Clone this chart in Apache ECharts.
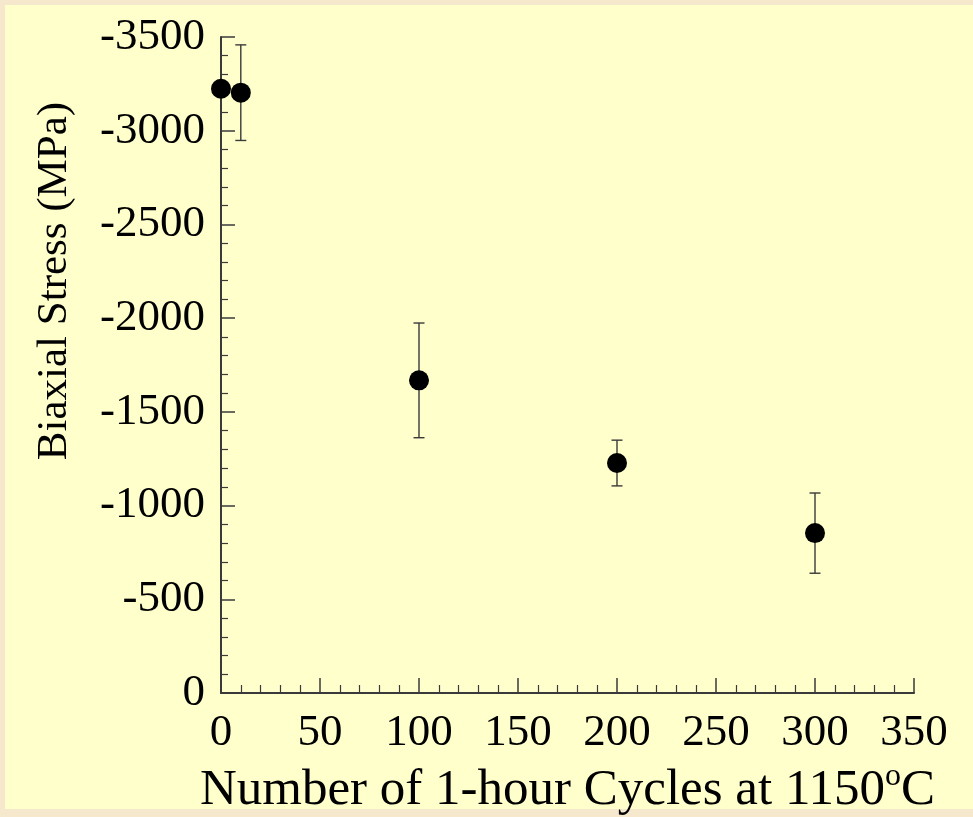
<!DOCTYPE html>
<html>
<head>
<meta charset="utf-8">
<script src="https://cdn.jsdelivr.net/npm/echarts@6/dist/echarts.min.js"></script>
<style>
  html, body { margin: 0; padding: 0; background: #F6E8CC; }
  #chart { width: 973px; height: 817px; }
</style>
</head>
<body>
<div id="chart"></div>
<script>
// Thermal cycling: residual biaxial stress vs. number of 1-hour cycles
const cycles = [0, 10, 100, 200, 300];
const stress = [-3224, -3203, -1668, -1227, -853];
const stressErr = [0, 255, 306, 122, 214];

const xTicks = [0, 50, 100, 150, 200, 250, 300, 350];
const yTicks = [-3500, -3000, -2500, -2000, -1500, -1000, -500, 0];

const serif = '"Liberation Serif", "DejaVu Serif", serif';
const axisColor = '#3a3a3a';

const points = cycles.map((c, i) => [c, stress[i]]);
const bars = cycles.map((c, i) => [c, stress[i] - stressErr[i], stress[i] + stressErr[i]]);

const chart = echarts.init(document.getElementById('chart'), null, { renderer: 'canvas' });

chart.setOption({
  backgroundColor: '#F6E8CC',
  animation: false,
  graphic: [{
    type: 'rect',
    z: -10,
    shape: { x: 5, y: 5, width: 968, height: 804 },
    style: { fill: '#FFFFCC' }
  }],
  grid: { left: 221, top: 37, right: 59, bottom: 124, containLabel: false, outerBoundsMode: 'none' },
  xAxis: {
    type: 'value',
    min: xTicks[0],
    max: xTicks[xTicks.length - 1],
    interval: 50,
    axisLine: { lineStyle: { color: axisColor, width: 2 } },
    axisTick: { inside: true, length: 15, lineStyle: { color: axisColor, width: 1.5 } },
    minorTick: { show: true, splitNumber: 5, length: 8, lineStyle: { color: axisColor, width: 1.2 } },
    splitLine: { show: false },
    axisLabel: { color: '#000', fontFamily: serif, fontSize: 45, margin: 18, formatter: v => String(v) },
    name: '{t|Number of 1-hour Cycles at 1150}{s|o}{t|C}',
    nameLocation: 'middle',
    nameGap: 67,
    nameTextStyle: {
      color: '#000',
      fontFamily: serif,
      rich: {
        t: { fontFamily: serif, fontSize: 51, color: '#000', lineHeight: 60 },
        s: { fontFamily: serif, fontSize: 32, color: '#000', verticalAlign: 'top', lineHeight: 60, padding: [0, 0, 22, 0] }
      }
    }
  },
  yAxis: {
    type: 'value',
    inverse: true,
    min: yTicks[0],
    max: yTicks[yTicks.length - 1],
    interval: 500,
    axisLine: { lineStyle: { color: axisColor, width: 2 } },
    axisTick: { inside: true, length: 14, lineStyle: { color: axisColor, width: 1.5 } },
    minorTick: { show: true, splitNumber: 5, length: 7, lineStyle: { color: axisColor, width: 1.2 } },
    splitLine: { show: false },
    axisLabel: { color: '#000', fontFamily: serif, fontSize: 45, margin: 16, formatter: v => String(v) },
    name: 'Biaxial Stress (MPa)',
    nameLocation: 'middle',
    nameGap: 145,
    nameRotate: 90,
    nameTextStyle: { color: '#000', fontFamily: serif, fontSize: 43, padding: [0, 0, 0, 168] }
  },
  series: [
    {
      type: 'custom',
      z: 3,
      data: bars,
      renderItem: function (params, api) {
        const x = api.value(0);
        const lo = api.coord([x, api.value(1)]);
        const hi = api.coord([x, api.value(2)]);
        if (Math.abs(hi[1] - lo[1]) < 1) return null;
        const half = 5.5;
        const style = { stroke: '#3a3a3a', lineWidth: 1.4 };
        return {
          type: 'group',
          children: [
            { type: 'line', shape: { x1: lo[0], y1: lo[1], x2: hi[0], y2: hi[1] }, style: style },
            { type: 'line', shape: { x1: lo[0] - half, y1: lo[1], x2: lo[0] + half, y2: lo[1] }, style: style },
            { type: 'line', shape: { x1: hi[0] - half, y1: hi[1], x2: hi[0] + half, y2: hi[1] }, style: style }
          ]
        };
      }
    },
    {
      type: 'scatter',
      z: 5,
      data: points,
      symbol: 'circle',
      symbolSize: 20,
      itemStyle: { color: '#000', opacity: 1 },
      clip: false
    }
  ]
});
</script>
</body>
</html>
